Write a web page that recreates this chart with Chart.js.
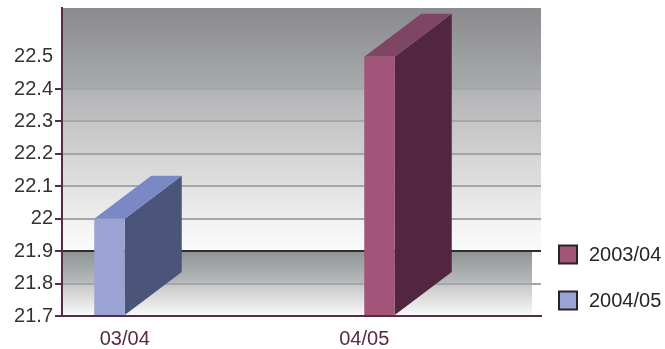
<!DOCTYPE html>
<html>
<head>
<meta charset="utf-8">
<script src="https://cdn.jsdelivr.net/npm/chart.js@4"></script>
<style>
  html, body { margin: 0; padding: 0; background: #ffffff; }
  #wrap { width: 665px; height: 349px; }
</style>
</head>
<body>
<div id="wrap"><canvas id="chart" width="665" height="349"></canvas></div>
<script>
// Categories and series values
const categories = ['03/04', '04/05'];
const series2003 = [null, 22.5];
const series2004 = [22.0, null];
const yMin = 21.7;
const yMax = 22.65;
const yStep = 0.1;
const yLabelTop = 22.5;

const FONT = '"Liberation Sans", Arial, Helvetica, sans-serif';
const AXIS_COLOR = '#582a45';
const DEPTH_X = 57;   // horizontal extrusion of the 3D bars
const DEPTH_Y = 43;   // vertical extrusion of the 3D bars
const FLOOR_INSET = 9; // floor stops short of the back wall on the right

// Face colours for each series: front, top, side
const faces = {
  '2003/04': { front: '#a25479', top: '#7f4664', side: '#53263f' },
  '2004/05': { front: '#9ba3d5', top: '#7a88c5', side: '#4a5579' }
};

// Shading bands of the back wall, top to bottom, one per grid interval
const wallBands = [
  ['#8b8a8f', '#a8abac'],
  ['#b4b3b9', '#c0c0c2'],
  ['#c5c5c5', '#d0d0d0'],
  ['#d5d5d5', '#dfdfdf'],
  ['#e3e3e3', '#ededed'],
  ['#f1f1f1', '#fbfbfb']
];
const floorBands = [
  ['#8e9396', '#b9bcbd'],
  ['#c6c6c6', '#fafafa']
];

function fillBand(ctx, x1, x2, y1, y2, c1, c2) {
  const g = ctx.createLinearGradient(0, y1, 0, y2);
  g.addColorStop(0, c1);
  g.addColorStop(1, c2);
  ctx.fillStyle = g;
  ctx.fillRect(x1, y1, x2 - x1, y2 - y1);
}

const backdrop = {
  id: 'backdrop',
  beforeDraw(chart) {
    const { ctx, chartArea: a, scales: { y } } = chart;
    const tickPx = y.ticks.map(t => y.getPixelForValue(t.value)).sort((p, q) => p - q);
    // wall boundaries: plot top, then the gridlines below the top label
    const inner = tickPx.filter(p => p > y.getPixelForValue(yLabelTop) + 1);
    const bounds = [a.top].concat(inner);
    ctx.save();
    for (let i = 0; i < wallBands.length; i++) {
      fillBand(ctx, a.left, a.right, bounds[i], bounds[i + 1], wallBands[i][0], wallBands[i][1]);
    }
    const fb = bounds.slice(wallBands.length).concat([a.bottom]);
    for (let i = 0; i < floorBands.length; i++) {
      fillBand(ctx, a.left, a.right - FLOOR_INSET, fb[i], fb[i + 1], floorBands[i][0], floorBands[i][1]);
    }
    ctx.restore();
  }
};

const bars3d = {
  id: 'bars3d',
  beforeDatasetsDraw(chart) {
    const ctx = chart.ctx;
    ctx.save();
    chart.data.datasets.forEach((ds, di) => {
      const meta = chart.getDatasetMeta(di);
      const f = faces[ds.label];
      meta.data.forEach((el, i) => {
        if (ds.data[i] === null || ds.data[i] === undefined) return;
        const { x, y, base, width } = el.getProps(['x', 'y', 'base', 'width'], true);
        const fl = x - DEPTH_X - width / 2;
        const fr = x - DEPTH_X + width / 2;
        // side face
        ctx.fillStyle = f.side;
        ctx.beginPath();
        ctx.moveTo(fr, y);
        ctx.lineTo(fr + DEPTH_X, y - DEPTH_Y);
        ctx.lineTo(fr + DEPTH_X, base - DEPTH_Y);
        ctx.lineTo(fr, base);
        ctx.closePath();
        ctx.fill();
        // top face
        ctx.fillStyle = f.top;
        ctx.beginPath();
        ctx.moveTo(fl, y);
        ctx.lineTo(fr, y);
        ctx.lineTo(fr + DEPTH_X, y - DEPTH_Y);
        ctx.lineTo(fl + DEPTH_X, y - DEPTH_Y);
        ctx.closePath();
        ctx.fill();
        // front face
        ctx.fillStyle = f.front;
        ctx.fillRect(fl, y, width, base - y);
      });
    });
    ctx.restore();
    return false;
  }
};

const legendBox = {
  id: 'legendBox',
  afterDraw(chart) {
    const ctx = chart.ctx;
    const items = chart.data.datasets.slice().reverse();
    ctx.save();
    ctx.font = '20px ' + FONT;
    ctx.textBaseline = 'middle';
    ctx.textAlign = 'left';
    items.forEach((ds, i) => {
      const cy = 254.5 + i * 46;
      const bx = 559, size = 18;
      ctx.fillStyle = faces[ds.label].front;
      ctx.fillRect(bx, cy - size / 2, size, size);
      ctx.strokeStyle = '#262626';
      ctx.lineWidth = 2;
      ctx.strokeRect(bx, cy - size / 2, size, size);
      ctx.fillStyle = '#262626';
      ctx.fillText(ds.label, 589, cy + 1);
    });
    ctx.restore();
  }
};

const isTop = v => Math.abs(v - yLabelTop) < 1e-6;
const isFloorEdge = v => Math.abs(v - 21.9) < 1e-6;

new Chart(document.getElementById('chart'), {
  type: 'bar',
  data: {
    labels: categories,
    datasets: [
      { label: '2004/05', data: series2004, backgroundColor: faces['2004/05'].front },
      { label: '2003/04', data: series2003, backgroundColor: faces['2003/04'].front }
    ]
  },
  plugins: [backdrop, bars3d, legendBox],
  options: {
    responsive: false,
    animation: false,
    devicePixelRatio: 1,
    layout: { padding: { top: 8, right: 124, left: 0, bottom: 0 } },
    plugins: { legend: { display: false }, tooltip: { enabled: false } },
    datasets: { bar: { categoryPercentage: 0.2547, barPercentage: 1, base: yMin } },
    scales: {
      x: {
        grid: { display: false },
        border: { display: true, color: AXIS_COLOR, width: 2 },
        ticks: { color: '#582a45', font: { family: FONT, size: 20 }, padding: 3, labelOffset: -DEPTH_X },
        afterFit(s) { s.height = 33; s.paddingLeft = 0; s.paddingRight = 0; }
      },
      y: {
        min: yMin,
        max: yMax,
        border: { display: true, color: AXIS_COLOR, width: 2 },
        grid: {
          tickLength: 7,
          lineWidth: 2,
          color: c => isTop(c.tick.value) ? 'rgba(0,0,0,0)' : (isFloorEdge(c.tick.value) ? '#2e2e2e' : '#a6a6a9'),
          tickColor: c => isTop(c.tick.value) ? 'rgba(0,0,0,0)' : AXIS_COLOR
        },
        ticks: {
          stepSize: yStep,
          includeBounds: false,
          color: '#333333',
          padding: 2,
          font: { family: FONT, size: 20 },
          callback: v => String(Number(v.toFixed(1)))
        },
        afterBuildTicks(s) { s.ticks = s.ticks.filter(t => t.value <= yLabelTop + 1e-6); },
        afterFit(s) { s.width = 62; s.paddingTop = 0; s.paddingBottom = 0; }
      }
    }
  }
});
</script>
</body>
</html>
